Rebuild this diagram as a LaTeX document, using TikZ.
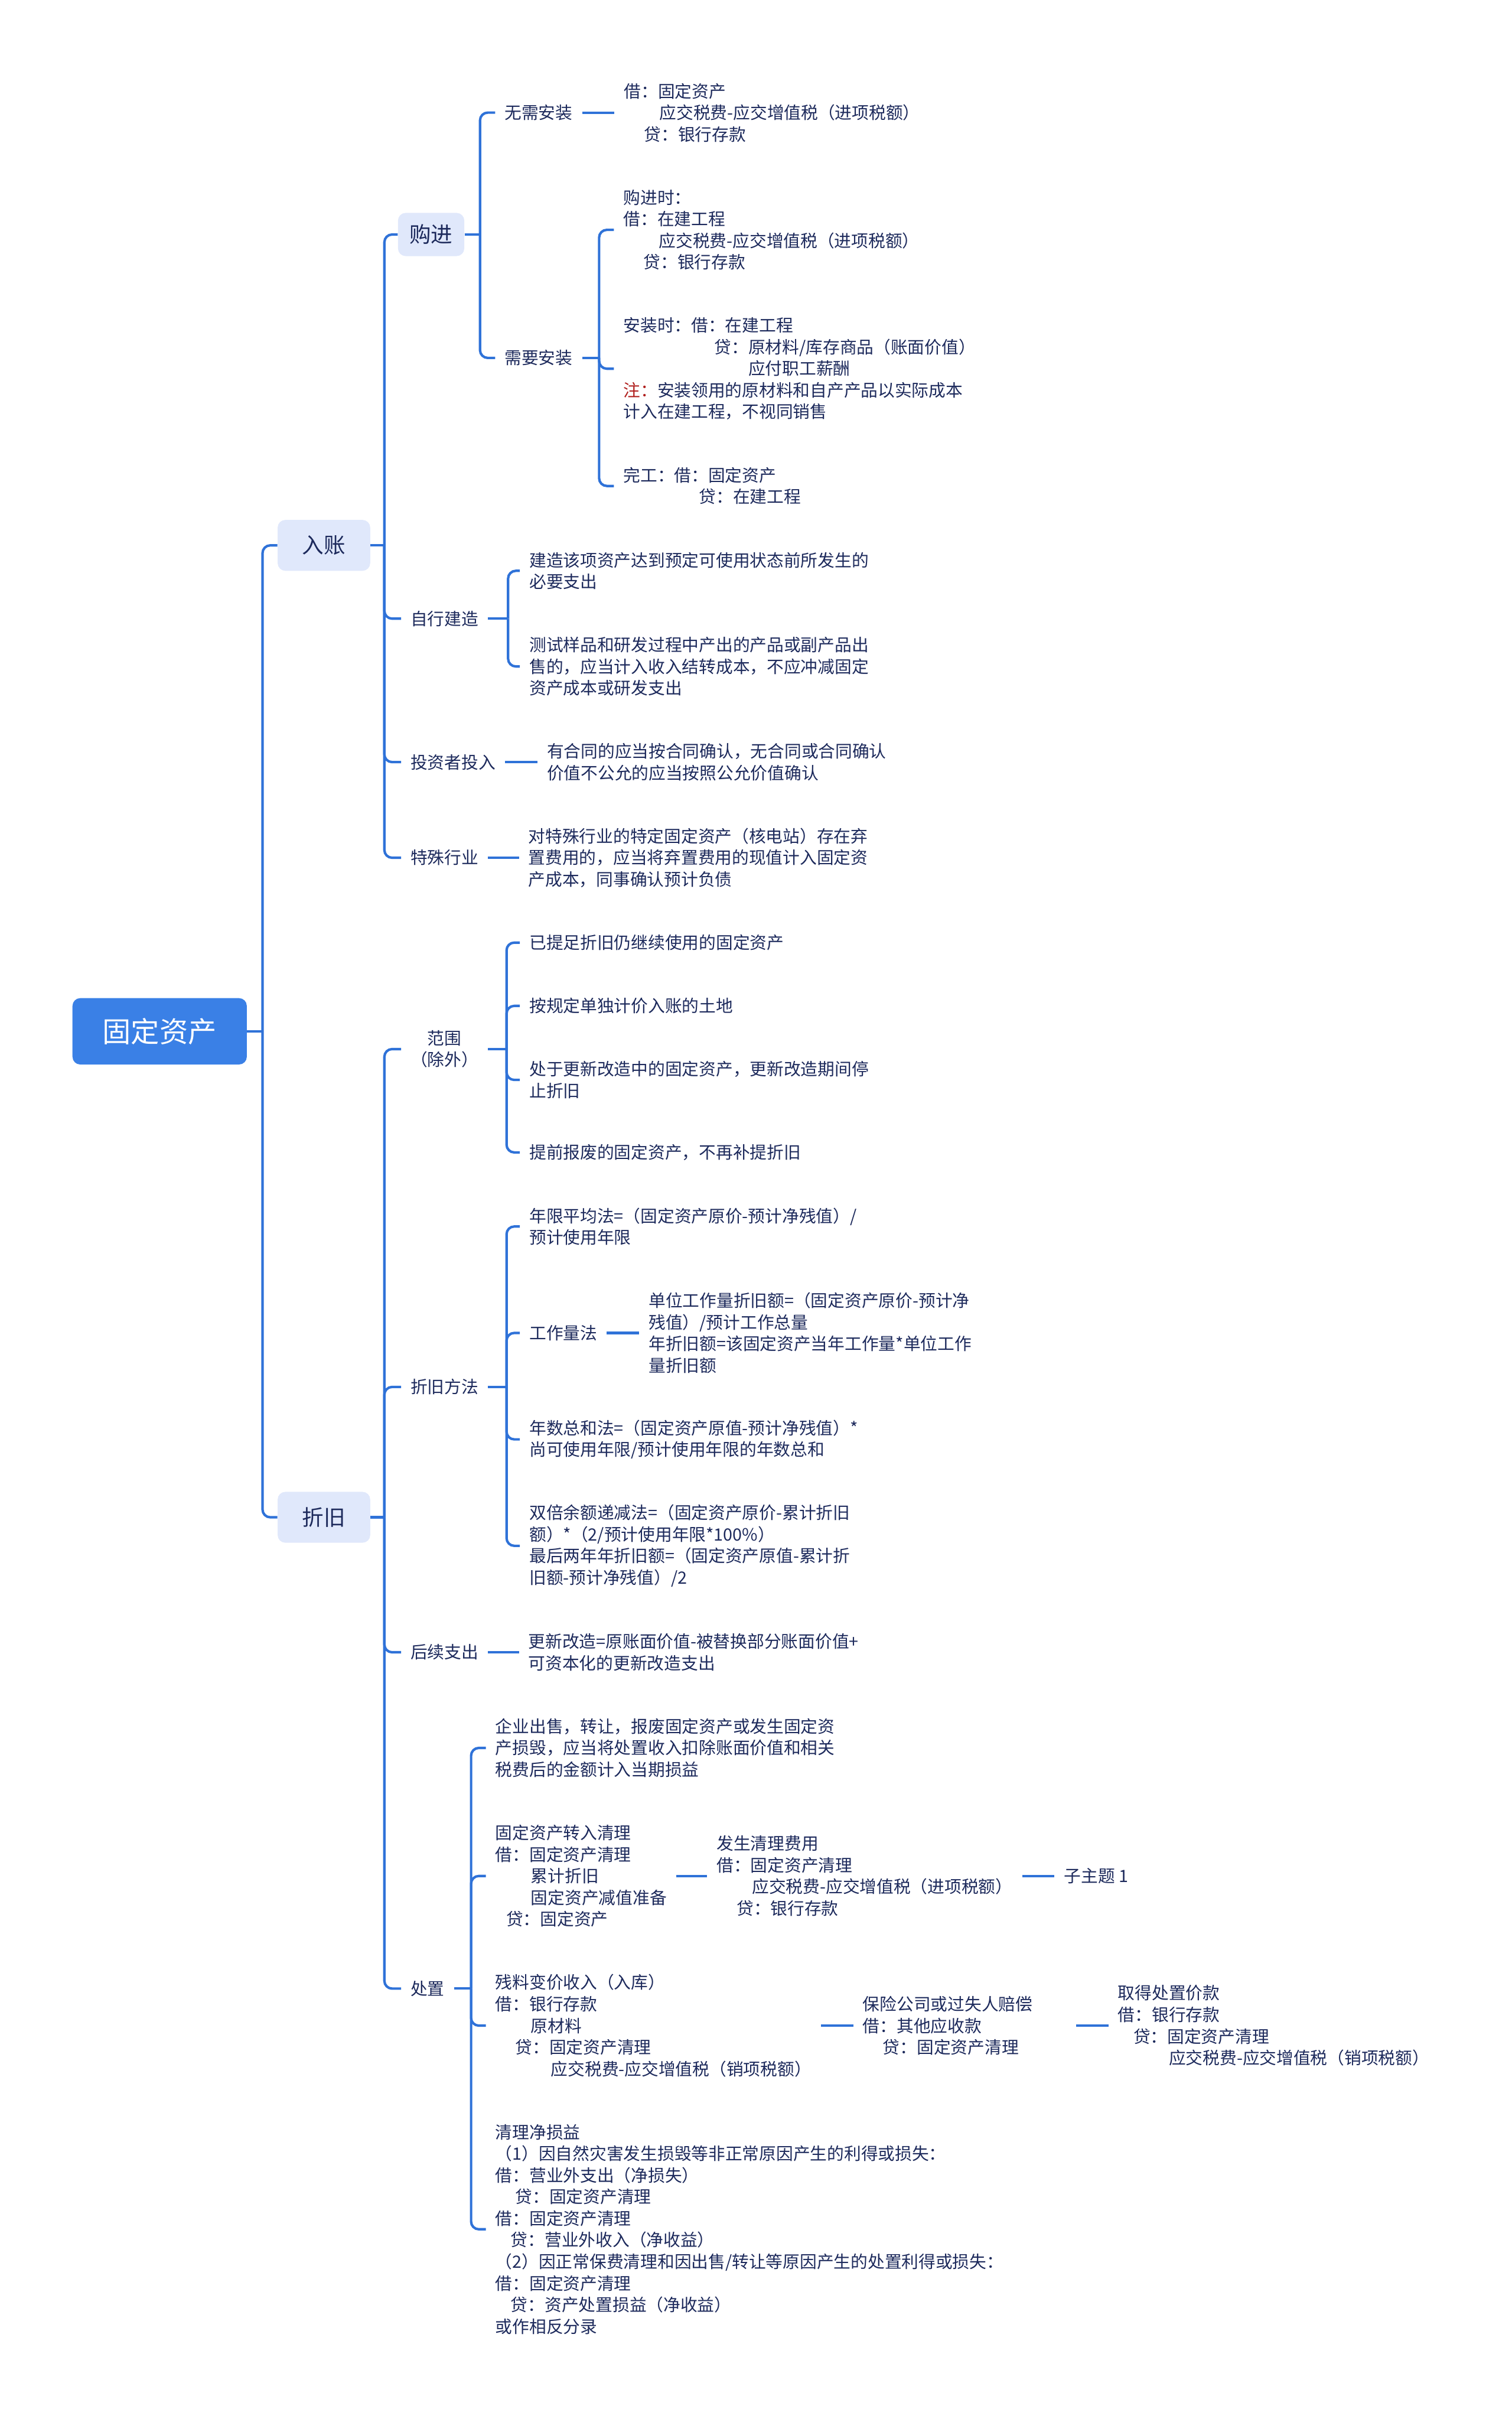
\documentclass[tikz,border=0pt]{standalone}
\usepackage{fontspec}
\usetikzlibrary{positioning}
\newfontfamily\cjk{Noto Sans CJK SC}
\definecolor{linkblue}{HTML}{2F72D8}
\definecolor{rootblue}{HTML}{3A80E6}
\definecolor{boxfill}{HTML}{E0E8FB}
\definecolor{ink}{HTML}{1D2A5C}
\definecolor{notered}{HTML}{B0201E}

\begin{document}
\begin{tikzpicture}[x=1pt, y=-1pt, font=\cjk\fontsize{11}{14}\selectfont, text=ink,
  link/.style={draw=linkblue, line width=1.6pt, rounded corners=5pt},
  rootbox/.style={fill=rootblue, text=white, rounded corners=5pt, minimum width=113pt, minimum height=43pt, font=\cjk\fontsize{18.5}{22}\selectfont},
  topicbox/.style={fill=boxfill, rounded corners=5pt, minimum width=60pt, minimum height=33pt, font=\cjk\fontsize{14}{17}\selectfont},
  leaf/.style={anchor=west, align=left, inner xsep=6pt, inner ysep=1pt}]
\useasboundingbox (0,0) rectangle (980,1568);

\node[rootbox] (root) at (103.5,668.5) {固定资产};
\node[topicbox] (ruzhang) at (210,353.5) {入账};
\node[topicbox] (zhejiu) at (210,983.5) {折旧};

\node[topicbox, minimum width=43pt, minimum height=28pt] (goujin) at (279.5,152) {购进};
\node[leaf] (wuxu) at (321,73) {无需安装};
\node[leaf, right=21pt of wuxu] (wuxu-a) {借：固定资产\\\hspace*{23pt}应交税费-应交增值税（进项税额）\\\hspace*{13pt}贷：银行存款};
\node[leaf] (xuyao) at (321,232) {需要安装};
\node[leaf] (xuyao-a) at (398,149) {购进时：\\借：在建工程\\\hspace*{23pt}应交税费-应交增值税（进项税额）\\\hspace*{13pt}贷：银行存款};
\node[leaf] (xuyao-b) at (398,239) {安装时：借：在建工程\\\hspace*{59pt}贷：原材料/库存商品（账面价值）\\\hspace*{81pt}应付职工薪酬\\{\color{notered}注：}安装领用的原材料和自产产品以实际成本\\计入在建工程，不视同销售};
\node[leaf] (xuyao-c) at (398,315) {完工：借：固定资产\\\hspace*{49pt}贷：在建工程};

\node[leaf] (zixing) at (260,401) {自行建造};
\node[leaf] (zixing-a) at (337,370) {建造该项资产达到预定可使用状态前所发生的\\必要支出};
\node[leaf] (zixing-b) at (337,432) {测试样品和研发过程中产出的产品或副产品出\\售的，应当计入收入结转成本，不应冲减固定\\资产成本或研发支出};
\node[leaf] (touzi) at (260,494) {投资者投入};
\node[leaf, right=21pt of touzi] (touzi-a) {有合同的应当按合同确认，无合同或合同确认\\价值不公允的应当按照公允价值确认};
\node[leaf] (teshu) at (260,556) {特殊行业};
\node[leaf, right=20pt of teshu] (teshu-a) {对特殊行业的特定固定资产（核电站）存在弃\\置费用的，应当将弃置费用的现值计入固定资\\产成本，同事确认预计负债};

\node[leaf, align=center] (fanwei) at (260,680) {范围\\（除外）};
\node[leaf] (fanwei-a) at (337,611) {已提足折旧仍继续使用的固定资产};
\node[leaf] (fanwei-b) at (337,652) {按规定单独计价入账的土地};
\node[leaf] (fanwei-c) at (337,700) {处于更新改造中的固定资产，更新改造期间停\\止折旧};
\node[leaf] (fanwei-d) at (337,747) {提前报废的固定资产，不再补提折旧};

\node[leaf] (fangfa) at (260,899) {折旧方法};
\node[leaf] (fangfa-a) at (337,795) {年限平均法=（固定资产原价-预计净残值）/\\预计使用年限};
\node[leaf] (gongzuo) at (337,864) {工作量法};
\node[leaf, right=21pt of gongzuo] (gongzuo-a) {单位工作量折旧额=（固定资产原价-预计净\\残值）/预计工作总量\\年折旧额=该固定资产当年工作量*单位工作\\量折旧额};
\node[leaf] (fangfa-c) at (337,933) {年数总和法=（固定资产原值-预计净残值）*\\尚可使用年限/预计使用年限的年数总和};
\node[leaf] (fangfa-d) at (337,1002) {双倍余额递减法=（固定资产原价-累计折旧\\额）*（2/预计使用年限*100\%）\\最后两年年折旧额=（固定资产原值-累计折\\旧额-预计净残值）/2};

\node[leaf] (houxu) at (260,1071) {后续支出};
\node[leaf, right=20pt of houxu] (houxu-a) {更新改造=原账面价值-被替换部分账面价值+\\可资本化的更新改造支出};

\node[leaf] (chuzhi) at (260,1289) {处置};
\node[leaf] (chuzhi-a) at (315,1133) {企业出售，转让，报废固定资产或发生固定资\\产损毁，应当将处置收入扣除账面价值和相关\\税费后的金额计入当期损益};
\node[leaf] (zhuanru) at (315,1216) {固定资产转入清理\\借：固定资产清理\\\hspace*{23pt}累计折旧\\\hspace*{23pt}固定资产减值准备\\\hspace*{7pt}贷：固定资产};
\node[leaf, right=20pt of zhuanru] (fasheng) {发生清理费用\\借：固定资产清理\\\hspace*{23pt}应交税费-应交增值税（进项税额）\\\hspace*{13pt}贷：银行存款};
\node[leaf, right=21pt of fasheng] (zizhuti) {子主题 1};
\node[leaf] (canliao) at (315,1313) {残料变价收入（入库）\\借：银行存款\\\hspace*{23pt}原材料\\\hspace*{13pt}贷：固定资产清理\\\hspace*{36pt}应交税费-应交增值税（销项税额）};
\node[leaf, right=21pt of canliao, text width=132pt] (baoxian) {保险公司或过失人赔偿\\借：其他应收款\\\hspace*{13pt}贷：固定资产清理};
\node[leaf, right=21pt of baoxian] (qude) {取得处置价款\\借：银行存款\\\hspace*{10pt}贷：固定资产清理\\\hspace*{33pt}应交税费-应交增值税（销项税额）};
\node[leaf] (jingsunyi) at (315,1445) {清理净损益\\（1）因自然灾害发生损毁等非正常原因产生的利得或损失：\\借：营业外支出（净损失）\\\hspace*{13pt}贷：固定资产清理\\借：固定资产清理\\\hspace*{10pt}贷：营业外收入（净收益）\\（2）因正常保费清理和因出售/转让等原因产生的处置利得或损失：\\借：固定资产清理\\\hspace*{10pt}贷：资产处置损益（净收益）\\或作相反分录};

\coordinate (s-root) at ([xshift=10pt]root.east);
\coordinate (s-ruzhang) at ([xshift=9pt]ruzhang.east);
\coordinate (s-zhejiu) at ([xshift=9pt]zhejiu.east);
\coordinate (s-goujin) at ([xshift=10pt]goujin.east);
\coordinate (s-xuyao) at ([xshift=11pt]xuyao.east);
\coordinate (s-zixing) at ([xshift=13pt]zixing.east);
\coordinate (s-fanwei) at ([xshift=12pt]fanwei.east);
\coordinate (s-fangfa) at ([xshift=12pt]fangfa.east);
\coordinate (s-chuzhi) at ([xshift=11pt]chuzhi.east);

\draw[link] (root) -- (s-root);
\draw[link] (s-root) |- (ruzhang);
\draw[link] (s-root) |- (zhejiu);
\draw[link] (ruzhang) -- (s-ruzhang);
\draw[link] (s-ruzhang) |- (goujin);
\draw[link] (s-ruzhang) |- (zixing);
\draw[link] (s-ruzhang) |- (touzi);
\draw[link] (s-ruzhang) |- (teshu);
\draw[link] (goujin) -- (s-goujin);
\draw[link] (s-goujin) |- (wuxu);
\draw[link] (s-goujin) |- (xuyao);
\draw[link] (wuxu) -- (wuxu-a);
\draw[link] (xuyao) -- (s-xuyao);
\draw[link] (s-xuyao) |- (xuyao-a);
\draw[link] (s-xuyao) |- (xuyao-b);
\draw[link] (s-xuyao) |- (xuyao-c);
\draw[link] (zixing) -- (s-zixing);
\draw[link] (s-zixing) |- (zixing-a);
\draw[link] (s-zixing) |- (zixing-b);
\draw[link] (touzi) -- (touzi-a);
\draw[link] (teshu) -- (teshu-a);
\draw[link] (zhejiu) -- (s-zhejiu);
\draw[link] (s-zhejiu) |- (fanwei);
\draw[link] (s-zhejiu) |- (fangfa);
\draw[link] (s-zhejiu) |- (houxu);
\draw[link] (s-zhejiu) |- (chuzhi);
\draw[link] (fanwei) -- (s-fanwei);
\draw[link] (s-fanwei) |- (fanwei-a);
\draw[link] (s-fanwei) |- (fanwei-b);
\draw[link] (s-fanwei) |- (fanwei-c);
\draw[link] (s-fanwei) |- (fanwei-d);
\draw[link] (fangfa) -- (s-fangfa);
\draw[link] (s-fangfa) |- (fangfa-a);
\draw[link] (s-fangfa) |- (gongzuo);
\draw[link] (s-fangfa) |- (fangfa-c);
\draw[link] (s-fangfa) |- (fangfa-d);
\draw[link] (gongzuo) -- (gongzuo-a);
\draw[link] (houxu) -- (houxu-a);
\draw[link] (chuzhi) -- (s-chuzhi);
\draw[link] (s-chuzhi) |- (chuzhi-a);
\draw[link] (s-chuzhi) |- (zhuanru);
\draw[link] (s-chuzhi) |- (canliao);
\draw[link] (s-chuzhi) |- (jingsunyi);
\draw[link] (zhuanru) -- (fasheng);
\draw[link] (fasheng) -- (zizhuti);
\draw[link] (canliao) -- (baoxian);
\draw[link] (baoxian) -- (qude);
\end{tikzpicture}
\end{document}
